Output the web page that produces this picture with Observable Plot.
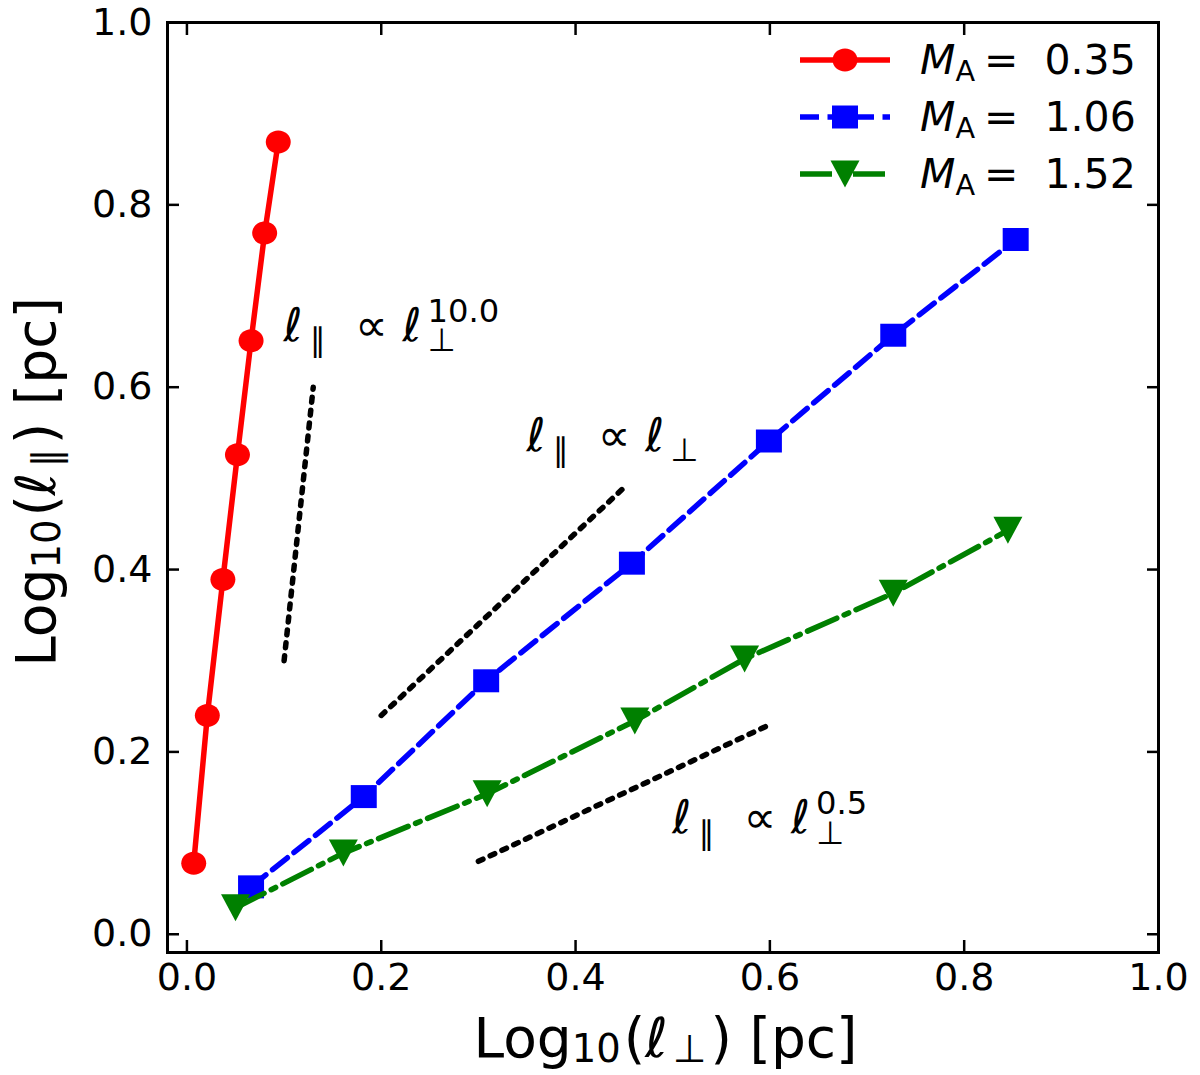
<!DOCTYPE html>
<html>
<head>
<meta charset="utf-8">
<script src="https://cdn.jsdelivr.net/npm/d3@7"></script>
<script src="https://cdn.jsdelivr.net/npm/@observablehq/plot@0.6"></script>
<style>
  body { margin: 0; background: #fff; }
  #chart { width: 1200px; height: 1075px; }
  #chart text { white-space: pre; }
</style>
</head>
<body>
<div id="chart"></div>
<script>
// valores (log10 en pc)
const perp035 = [0.007, 0.021, 0.037, 0.052, 0.066, 0.080, 0.094];
const par035  = [0.078, 0.240, 0.389, 0.526, 0.651, 0.769, 0.869];
const perp106 = [0.066, 0.182, 0.308, 0.458, 0.599, 0.727, 0.853];
const par106  = [0.052, 0.151, 0.278, 0.407, 0.541, 0.657, 0.762];
const perp152 = [0.050, 0.161, 0.309, 0.461, 0.574, 0.727, 0.845];
const par152  = [0.029, 0.089, 0.154, 0.234, 0.302, 0.374, 0.443];
const maLabels = ["0.35", "1.06", "1.52"];
const ticks = [0, 0.2, 0.4, 0.6, 0.8, 1.0];

// rectas de referencia ℓ∥ ∝ ℓ⊥^n : exponente, inicio y fin
const exponents = ["10.0", "", "0.5"];
const guideX1 = [0.10, 0.20, 0.30];
const guideY1 = [0.30, 0.24, 0.08];
const guideX2 = [0.13, 0.45, 0.60];
const guideY2 = [0.60, 0.49, 0.23];
const noteX = [0.10, 0.35, 0.50];
const noteY = [0.65, 0.53, 0.11];

const rows = [
  ...perp035.map((p, i) => ({perp: p, par: par035[i], ma: maLabels[0]})),
  ...perp106.map((p, i) => ({perp: p, par: par106[i], ma: maLabels[1]})),
  ...perp152.map((p, i) => ({perp: p, par: par152[i], ma: maLabels[2]}))
];
const guides = exponents.flatMap((e, i) => [
  {x: guideX1[i], y: guideY1[i], g: i},
  {x: guideX2[i], y: guideY2[i], g: i}
]);

// marcadores al estilo matplotlib (un poco achatados como en la imagen)
const ellipse = {draw(c) {
  const rx = 12.5, ry = 11.5, k = 0.5523;
  c.moveTo(rx, 0);
  c.bezierCurveTo(rx, k * ry, k * rx, ry, 0, ry);
  c.bezierCurveTo(-k * rx, ry, -rx, k * ry, -rx, 0);
  c.bezierCurveTo(-rx, -k * ry, -k * rx, -ry, 0, -ry);
  c.bezierCurveTo(k * rx, -ry, rx, -k * ry, rx, 0);
  c.closePath();
}};
const square = {draw(c) {
  c.moveTo(-13, -11.5); c.lineTo(13, -11.5); c.lineTo(13, 11.5); c.lineTo(-13, 11.5); c.closePath();
}};
const triDown = {draw(c) {
  c.moveTo(0, 13.5); c.lineTo(-14.5, -13.5); c.lineTo(14.5, -13.5); c.closePath();
}};

const styles = [
  {color: "#ff0000", dash: null, symbol: ellipse},
  {color: "#0000ff", dash: "19,8.5", symbol: square},
  {color: "#008000", dash: "32,8,5,8", symbol: triDown}
];

const seriesMarks = maLabels.flatMap((m, i) => {
  const d = rows.filter(r => r.ma === m);
  return [
    Plot.line(d, {x: "perp", y: "par", stroke: styles[i].color, strokeWidth: 5.5, strokeDasharray: styles[i].dash}),
    Plot.dot(d, {x: "perp", y: "par", fill: styles[i].color, symbol: styles[i].symbol, stroke: "none"})
  ];
});

const chart = Plot.plot({
  width: 1200,
  height: 1075,
  marginLeft: 167,
  marginRight: 42,
  marginTop: 22,
  marginBottom: 123,
  x: {domain: [-0.02, 1.0], label: null},
  y: {domain: [-0.02, 1.0], label: null},
  style: {fontFamily: "DejaVu Sans", fontSize: "38px", color: "black", background: "white", overflow: "visible"},
  marks: [
    Plot.line(guides, {x: "x", y: "y", z: "g", stroke: "black", strokeWidth: 5.5, strokeDasharray: "5,8"}),
    ...seriesMarks,
    Plot.axisX({ticks, tickFormat: ".1f", tickSize: 0, tickPadding: 11, stroke: "none", label: null}),
    Plot.axisY({ticks, tickFormat: ".1f", tickSize: 0, tickPadding: 15, stroke: "none", label: null}),
    Plot.axisX({ticks, anchor: "bottom", tickSize: -12, strokeWidth: 2.5, fill: "none", label: null}),
    Plot.axisX({ticks, anchor: "top", tickSize: -12, strokeWidth: 2.5, fill: "none", label: null}),
    Plot.axisY({ticks, anchor: "left", tickSize: -12, strokeWidth: 2.5, fill: "none", label: null}),
    Plot.axisY({ticks, anchor: "right", tickSize: -12, strokeWidth: 2.5, fill: "none", label: null}),
    Plot.frame({stroke: "black", strokeWidth: 3})
  ]
});

document.getElementById("chart").append(chart);

// texto con sub/superíndices tipo mathtext
// parts: [texto, tipo, dx]; tipo "" | "i" | "sub" | "sup" | "supback"
function mathText(parent, parts, x, y, size, opts = {}) {
  const {anchor = "start", rotate = 0, subShift = 0.22, supShift = 0.42} = opts;
  const t = parent.append("text")
    .attr("transform", `translate(${x},${y}) rotate(${rotate})`)
    .attr("text-anchor", anchor)
    .attr("font-family", "DejaVu Sans")
    .attr("font-size", size)
    .attr("fill", "black");
  let shift = 0, prev = null;
  for (const [s, kind, dx] of parts) {
    const target = kind === "sub" ? subShift * size : kind === "sup" || kind === "supback" ? -supShift * size : 0;
    const sp = t.append("tspan").text(s).attr("dy", target - shift);
    shift = target;
    if (kind !== "" && kind !== "i") sp.attr("font-size", 0.7 * size);
    if (kind === "i") sp.attr("font-style", "italic");
    if (kind === "supback" && prev) sp.attr("dx", -prev.node().getComputedTextLength());
    else if (dx) sp.attr("dx", dx);
    prev = sp;
  }
  return t;
}

const svg = d3.select(chart);
const sx = chart.scale("x"), sy = chart.scale("y");

// notas de las pendientes
exponents.forEach((e, i) => {
  const parts = [["ℓ", ""], ["∥", "sub", 7], ["  ∝ ", ""], ["ℓ", ""], ["⊥", "sub", 6]];
  if (e) parts.push([e, "supback"]);
  mathText(svg, parts, sx.apply(noteX[i]), sy.apply(noteY[i]), 46);
});

// títulos de los ejes
mathText(svg, [["Log", ""], ["10", "sub"], ["(ℓ", "", 3], ["⊥", "sub", 5], [")", "", 4], [" [pc]", ""]],
  (167 + 1158) / 2 + 3, 1057, 55, {anchor: "middle", subShift: 0.09});
mathText(svg, [["Log", ""], ["10", "sub"], ["(ℓ", "", 3], ["∥", "sub", 5], [")", "", 4], [" [pc]", ""]],
  55, 482, 55, {anchor: "middle", rotate: -90, subShift: 0.09});

// leyenda
const leg = svg.append("g");
maLabels.forEach((m, i) => {
  const cy = 60 + i * 57;
  leg.append("line")
    .attr("x1", 800).attr("x2", 890).attr("y1", cy).attr("y2", cy)
    .attr("stroke", styles[i].color).attr("stroke-width", 5.5)
    .attr("stroke-dasharray", styles[i].dash);
  leg.append("path")
    .attr("transform", `translate(845,${cy})`)
    .attr("d", d3.symbol(styles[i].symbol)())
    .attr("fill", styles[i].color);
  mathText(leg, [["M", "i"], ["A", "sub"], ["=", "", 9], ["  " + m, ""]], 920, cy + 14, 41, {subShift: 0.18});
});
</script>
</body>
</html>
